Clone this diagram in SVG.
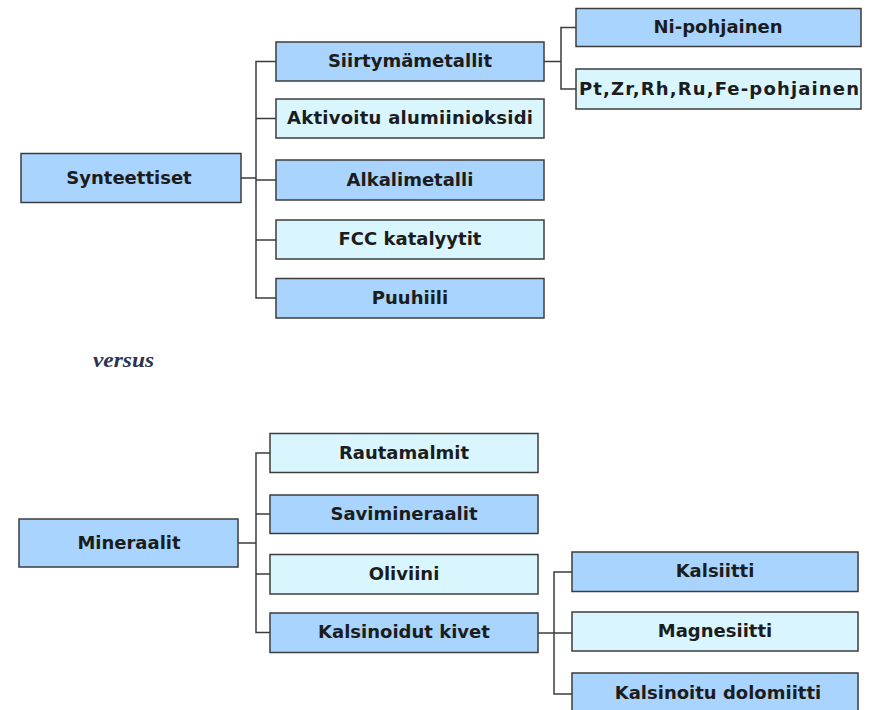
<svg xmlns="http://www.w3.org/2000/svg" width="869" height="710" viewBox="0 0 869 710">
<style>
.d{fill:#a8d4fe;stroke:#3c3c3c;stroke-width:1.5}
.l{fill:#d9f6ff;stroke:#3c3c3c;stroke-width:1.5}
.t{font-family:"DejaVu Sans",sans-serif;font-weight:bold;font-size:18px;fill:#1c1c1c;text-anchor:middle}
.c{fill:none;stroke:#3c3c3c;stroke-width:1.5}
.v{font-family:"Liberation Serif",serif;font-style:italic;font-weight:bold;font-size:21px;fill:#2b3550}
</style>
<rect width="869" height="710" fill="#ffffff"/>
<g id="connectors">
<path class="c" d="M241,178H256M276,61.5H256V298H276M256,118.5H276M256,180H276M256,240H276"/>
<path class="c" d="M544,61.5H561M576,27.5H561V89H576"/>
<path class="c" d="M238,543H256M270,453H256V632.5H270M256,514H270M256,574H270"/>
<path class="c" d="M538,633H572M572,572H554V694H572"/>
</g>
<g id="synteettiset"><rect class="d" x="21" y="153.5" width="220" height="49"/><text class="t" x="129" y="184">Synteettiset</text></g>
<g id="siirtymametallit"><rect class="d" x="276" y="42" width="268" height="39"/><text class="t" x="410" y="67">Siirtymämetallit</text></g>
<g id="aktivoitu"><rect class="l" x="276" y="99" width="268" height="39"/><text class="t" x="410" y="124" textLength="246" lengthAdjust="spacing">Aktivoitu alumiinioksidi</text></g>
<g id="alkalimetalli"><rect class="d" x="276" y="160" width="268" height="40"/><text class="t" x="410" y="185.5">Alkalimetalli</text></g>
<g id="fcc"><rect class="l" x="276" y="220" width="268" height="39"/><text class="t" x="410" y="245">FCC katalyytit</text></g>
<g id="puuhiili"><rect class="d" x="276" y="278.5" width="268" height="39.5"/><text class="t" x="410" y="303.5">Puuhiili</text></g>
<g id="ni"><rect class="d" x="576" y="8.5" width="285" height="38"/><text class="t" x="718" y="33">Ni-pohjainen</text></g>
<g id="pt"><rect class="l" x="576" y="69" width="285" height="40"/><text class="t" x="719" y="94.5" textLength="280" lengthAdjust="spacing">Pt,Zr,Rh,Ru,Fe-pohjainen</text></g>
<text class="v" x="93" y="367" textLength="61" lengthAdjust="spacingAndGlyphs">versus</text>
<g id="mineraalit"><rect class="d" x="19" y="519" width="219" height="48"/><text class="t" x="129" y="549">Mineraalit</text></g>
<g id="rautamalmit"><rect class="l" x="270" y="433.5" width="268" height="39"/><text class="t" x="404" y="458.5">Rautamalmit</text></g>
<g id="savimineraalit"><rect class="d" x="270" y="495" width="268" height="38.5"/><text class="t" x="404" y="519.5">Savimineraalit</text></g>
<g id="oliviini"><rect class="l" x="270" y="554.5" width="268" height="39.5"/><text class="t" x="404" y="579.5">Oliviini</text></g>
<g id="kalsinoidut"><rect class="d" x="270" y="613" width="268" height="39.5"/><text class="t" x="404" y="638">Kalsinoidut kivet</text></g>
<g id="kalsiitti"><rect class="d" x="572" y="552" width="286" height="39.5"/><text class="t" x="715" y="577">Kalsiitti</text></g>
<g id="magnesiitti"><rect class="l" x="572" y="612" width="286" height="39"/><text class="t" x="715" y="637">Magnesiitti</text></g>
<g id="dolomiitti"><rect class="d" x="572" y="673" width="286" height="40"/><text class="t" x="718" y="698.5">Kalsinoitu dolomiitti</text></g>
</svg>
